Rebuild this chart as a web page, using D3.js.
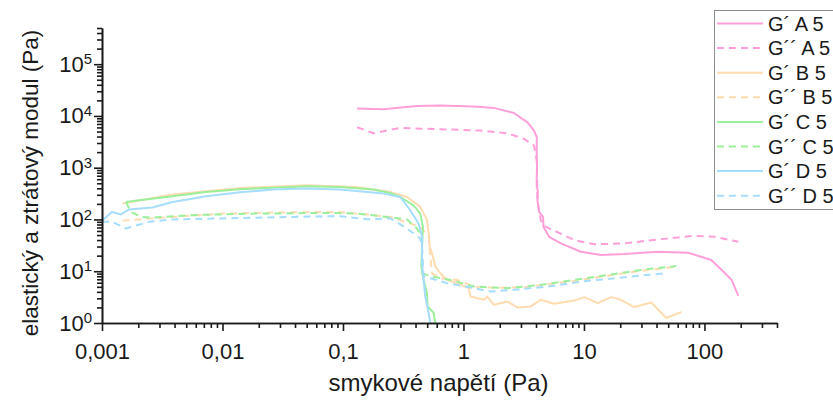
<!DOCTYPE html>
<html>
<head>
<meta charset="utf-8">
<script src="https://cdn.jsdelivr.net/npm/d3@7/dist/d3.min.js"></script>
<style>
  body { margin: 0; background: #fff; }
  svg { display: block; font-family: "Liberation Sans", Arial, sans-serif; }
  .axis path, .axis line { stroke: #1a1a1a; stroke-width: 1.6px; }
  .axis text { fill: #1a1a1a; font-size: 22px; font-family: "Liberation Sans", Arial, sans-serif; }
</style>
</head>
<body>
<div id="chart"></div>
<script>
// ---- data ----
var seriesNames = ["G´ A 5", "G´´ A 5", "G´ B 5", "G´´ B 5", "G´ C 5", "G´´ C 5", "G´ D 5", "G´´ D 5"];

var xGA1 = [0.131, 0.179, 0.217, 0.411, 0.643, 1.22, 1.79, 2.62, 3.40, 3.85, 4.06, 4.05, 4.08, 4.05, 4.06, 4.14, 4.11, 4.24, 4.58, 4.61, 5.14, 6.43, 9.44, 13.9, 21.7, 41.1, 73.1, 114, 139, 168, 191];
var yGA1 = [14000, 13600, 13400, 15600, 16000, 15300, 14300, 11400, 7530, 5220, 3880, 2000, 1000, 600, 424, 366, 235, 140, 112, 72, 46.3, 34.5, 23.8, 20.6, 21.5, 23.8, 22.8, 16.5, 10.6, 6.8, 3.35];

var xGA2 = [0.131, 0.179, 0.299, 0.643, 1.39, 2.31, 3.18, 3.85, 4.06, 4.11, 4.38, 4.67, 8.30, 12.2, 21.7, 41.1, 83, 122, 191];
var yGA2 = [6040, 4630, 5880, 5530, 5220, 4630, 3610, 2690, 1380, 235, 97, 75.3, 40, 33.1, 34.5, 41.2, 48.4, 46.3, 37.1];

var xGB1 = [0.00148, 0.00385, 0.0139, 0.0498, 0.130, 0.247, 0.340, 0.438, 0.498, 0.514, 0.524, 0.548, 0.585, 0.643, 0.731, 0.886, 1.107, 1.143, 1.476, 1.576, 1.79, 2.31, 2.80, 3.62, 4.38, 5.66, 8.30, 10.1, 13.0, 16.8, 19.7, 26.2, 36.2, 48.2, 64.3];
var yGB1 = [203, 303, 405, 457, 424, 340, 272, 175, 97, 53.8, 29.7, 22.2, 12.3, 9.15, 6.8, 5.88, 4.71, 3.25, 2.81, 3.25, 2.25, 2.60, 2.0, 2.09, 2.81, 2.35, 2.72, 3.16, 2.42, 3.16, 2.89, 2.03, 2.49, 1.25, 1.63];

var xGB2 = [0.00148, 0.00262, 0.0101, 0.0361, 0.0944, 0.247, 0.438, 0.515, 0.530, 0.548, 0.643, 0.886, 1.22, 1.79, 3.18, 8.30, 15.8, 29.9, 58.4];
var yGB2 = [95, 105, 130, 138, 140, 112, 72, 46, 20, 9.15, 7.33, 6.8, 5.06, 4.8, 4.9, 6.5, 8.2, 10.2, 12.2];

var xGC1 = [0.00158, 0.00203, 0.00385, 0.00731, 0.0139, 0.0262, 0.0498, 0.0944, 0.179, 0.247, 0.299, 0.385, 0.438, 0.461, 0.453, 0.447, 0.467, 0.498, 0.504, 0.566, 0.585];
var yGC1 = [218, 235, 281, 340, 383, 412, 437, 424, 378, 325, 272, 188, 130, 72, 29.7, 12.3, 6.8, 3.78, 2.09, 1.56, 1.0];

var xGC2 = [0.00158, 0.00174, 0.0021, 0.00262, 0.00531, 0.0191, 0.0686, 0.130, 0.231, 0.340, 0.411, 0.453, 0.453, 0.548, 0.779, 1.22, 2.31, 4.38, 8.30, 15.8, 29.9, 58.4];
var yGC2 = [218, 140, 112, 108, 121, 130, 134, 130, 112, 100, 67, 46, 9.15, 7.87, 6.8, 5.06, 4.71, 5.45, 6.8, 8.49, 10.6, 12.6];

var xGD1 = [0.001, 0.00121, 0.00143, 0.00168, 0.00262, 0.00385, 0.00731, 0.0139, 0.0262, 0.0498, 0.0944, 0.217, 0.299, 0.361, 0.424, 0.453, 0.453, 0.467, 0.482, 0.514, 0.531];
var yGD1 = [94, 140, 125, 156, 170, 218, 281, 335, 378, 395, 378, 316, 272, 151, 83.8, 46.3, 14.2, 6.8, 3.25, 1.56, 1.0];

var xGD2 = [0.001, 0.00122, 0.00158, 0.00246, 0.00385, 0.0101, 0.0361, 0.0944, 0.158, 0.247, 0.340, 0.438, 0.453, 0.467, 0.531, 0.731, 1.22, 1.68, 2.62, 4.98, 9.44, 17.9, 46.7];
var yGD2 = [90, 90, 67, 90, 100, 105, 112, 116, 101, 105, 67, 43.1, 29.7, 8, 7.33, 5.88, 4.71, 4.05, 4.37, 5.06, 6.31, 7.33, 9.15];

var xTickValues = [0.001, 0.01, 0.1, 1, 10, 100];
var xTickLabels = ["0,001", "0,01", "0,1", "1", "10", "100"];
var yTickValues = [1, 10, 100, 1000, 10000, 100000];
var yTickExponents = ["0", "1", "2", "3", "4", "5"];

var xTitle = "smykové napětí (Pa)";
var yTitle = "elastický a ztrátový modul (Pa)";

// ---- layout ----
var width = 833, height = 407;
var margin = {left: 102, right: 56, top: 28, bottom: 84};
var colors = ["#ff9fd9", "#ff9fd9", "#ffdcb0", "#ffdcb0", "#9bef9b", "#9bef9b", "#a6ddfd", "#a6ddfd"];

var series = [
    {x: xGA1, y: yGA1}, {x: xGA2, y: yGA2},
    {x: xGB1, y: yGB1}, {x: xGB2, y: yGB2},
    {x: xGC1, y: yGC1}, {x: xGC2, y: yGC2},
    {x: xGD1, y: yGD1}, {x: xGD2, y: yGD2}
].map(function(s, i) {
    return {
        name: seriesNames[i],
        color: colors[i],
        dashed: i % 2 === 1,
        points: s.x.map(function(v, j) { return [v, s.y[j]]; })
    };
});

var xScale = d3.scaleLog().domain([0.001, 400]).range([margin.left, width - margin.right]);
var yScale = d3.scaleLog().domain([1, 500000]).range([height - margin.bottom, margin.top]);

var svg = d3.select("#chart").append("svg")
    .attr("width", width)
    .attr("height", height);

// minor tick values for log axes
function minorTicks(lo, hi) {
    var out = [];
    for (var e = Math.floor(Math.log10(lo)); e <= Math.ceil(Math.log10(hi)); e++) {
        for (var m = 2; m <= 9; m++) {
            var v = m * Math.pow(10, e);
            if (v >= lo && v <= hi) out.push(v);
        }
    }
    return out;
}

// clip the curves to the plotting area
svg.append("defs").append("clipPath").attr("id", "plotClip")
    .append("rect")
    .attr("x", margin.left)
    .attr("y", margin.top)
    .attr("width", width - margin.left - margin.right + 60)
    .attr("height", height - margin.top - margin.bottom);

var line = d3.line()
    .x(function(d) { return xScale(d[0]); })
    .y(function(d) { return yScale(d[1]); });

var chartG = svg.append("g").attr("clip-path", "url(#plotClip)");
chartG.selectAll("path.series")
    .data(series)
    .enter().append("path")
    .attr("class", "series")
    .attr("d", function(d) { return line(d.points); })
    .attr("fill", "none")
    .attr("stroke", function(d) { return d.color; })
    .attr("stroke-width", 2)
    .attr("stroke-linejoin", "round")
    .attr("stroke-dasharray", function(d) { return d.dashed ? "7,5" : null; });

// x axis: minor then major
var xAxisY = height - margin.bottom;
svg.append("g")
    .attr("class", "axis x minor")
    .attr("transform", "translate(0," + xAxisY + ")")
    .call(d3.axisBottom(xScale).tickValues(minorTicks(0.001, 400)).tickFormat("").tickSize(5).tickSizeOuter(0));

svg.append("g")
    .attr("class", "axis x")
    .attr("transform", "translate(0," + xAxisY + ")")
    .call(d3.axisBottom(xScale).tickValues(xTickValues)
        .tickFormat(function(d, i) { return xTickLabels[i]; })
        .tickSize(8).tickPadding(12).tickSizeOuter(0));

// y axis: minor then major
svg.append("g")
    .attr("class", "axis y minor")
    .attr("transform", "translate(" + margin.left + ",0)")
    .call(d3.axisLeft(yScale).tickValues(minorTicks(1, 500000)).tickFormat("").tickSize(5).tickSizeOuter(0));

var yAxisG = svg.append("g")
    .attr("class", "axis y")
    .attr("transform", "translate(" + margin.left + ",0)")
    .call(d3.axisLeft(yScale).tickValues(yTickValues).tickFormat("").tickSize(8).tickPadding(2).tickSizeOuter(0));

yAxisG.selectAll(".tick text").each(function(d, i) {
    var t = d3.select(this);
    t.append("tspan").text("10");
    t.append("tspan").attr("dy", "-0.5em").style("font-size", "15px").text(yTickExponents[i]);
});

// titles
svg.append("text")
    .attr("x", (margin.left + width - margin.right) / 2 - 1)
    .attr("y", 391)
    .attr("text-anchor", "middle")
    .style("font-size", "24px")
    .attr("fill", "#1a1a1a")
    .text(xTitle);

svg.append("text")
    .attr("transform", "translate(38," + 183 + ") rotate(-90)")
    .attr("text-anchor", "middle")
    .style("font-size", "22.5px")
    .attr("fill", "#1a1a1a")
    .text(yTitle);

// legend
var legend = svg.append("g").attr("class", "legend");
legend.append("rect")
    .attr("x", 714.5).attr("y", 10.5)
    .attr("width", 140).attr("height", 199)
    .attr("fill", "#fff")
    .attr("stroke", "#8c8c8c")
    .attr("stroke-width", 1);

var rows = legend.selectAll("g.row")
    .data(series)
    .enter().append("g")
    .attr("class", "row")
    .attr("transform", function(d, i) { return "translate(0," + (23.5 + i * 24.6) + ")"; });

rows.append("line")
    .attr("x1", 717).attr("x2", 763)
    .attr("stroke", function(d) { return d.color; })
    .attr("stroke-width", 2)
    .attr("stroke-dasharray", function(d) { return d.dashed ? "7,5" : null; });

rows.append("text")
    .attr("x", 768)
    .attr("dy", "0.35em")
    .style("font-size", "20px")
    .attr("fill", "#1a1a1a")
    .text(function(d) { return d.name; });
</script>
</body>
</html>
